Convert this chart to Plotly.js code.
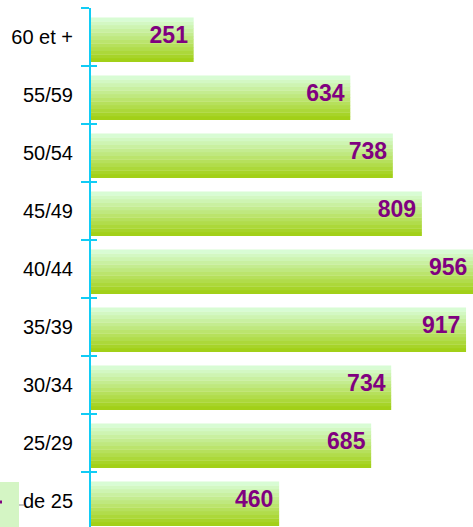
<!DOCTYPE html>
<html>
<head>
<meta charset="utf-8">
<script src="https://cdn.plot.ly/plotly-3.0.1.min.js"></script>
<style>
  html, body { margin: 0; padding: 0; overflow: hidden; background: #fff; }
  #chart { width: 473px; height: 527px; }
</style>
</head>
<body>
<div id="chart"></div>
<script>
// age groups, bottom to top
var ages = ["- de 25", "25/29", "30/34", "35/39", "40/44", "45/49", "50/54", "55/59", "60 et +"];
var effectifs = [460, 685, 734, 917, 956, 809, 738, 634, 251];

var xMax = 934;
var labelFont = "Liberation Sans, Arial, sans-serif";

// bottom -> top shades used to fake the gradient of the bars
var shades = ["#a2d018", "#a7d429", "#acd83a", "#b1dc4b", "#b6e05c", "#bbe46d",
              "#bfe87f", "#c4ec90", "#c9f0a1", "#cef4b2", "#d3f8c3", "#d8fcd4"];
var barW = 0.76;
var barShift = -0.05;

var traces = [];
for (var k = 0; k < shades.length; k++) {
    traces.push({
        type: 'bar',
        orientation: 'h',
        x: effectifs,
        y: ages,
        width: barW / shades.length + 0.005,
        offset: barShift - barW / 2 + k * barW / shades.length,
        marker: {color: shades[k], line: {width: 0}},
        hoverinfo: 'skip',
        showlegend: false
    });
}

// value labels at the end of each bar (kept inside the visible area)
traces.push({
    type: 'scatter',
    mode: 'text',
    x: effectifs.map(function(v) { return Math.min(v, xMax); }),
    y: ages,
    xaxis: 'x2',
    yaxis: 'y2',
    text: effectifs.map(String),
    textposition: 'middle left',
    textfont: {family: labelFont, size: 23, color: '#800080', weight: 'bold'},
    cliponaxis: false,
    hoverinfo: 'skip',
    showlegend: false
});

var yRange = [-0.448, 8.5];

var layout = {
    width: 473,
    height: 527,
    margin: {l: 91, r: 0, t: 8, b: 0},
    paper_bgcolor: '#ffffff',
    plot_bgcolor: '#ffffff',
    barmode: 'overlay',
    showlegend: false,
    xaxis: {
        range: [0, xMax],
        showgrid: false,
        zeroline: false,
        showline: false,
        showticklabels: false,
        ticks: ''
    },
    xaxis2: {
        overlaying: 'x',
        range: [14, xMax + 14],
        showgrid: false,
        zeroline: false,
        showline: false,
        showticklabels: false,
        ticks: ''
    },
    yaxis: {
        type: 'category',
        categoryorder: 'array',
        categoryarray: ages,
        range: yRange,
        showgrid: false,
        zeroline: false,
        showline: true,
        linecolor: '#11ccf5',
        linewidth: 2,
        ticks: 'outside',
        tickson: 'boundaries',
        ticklen: 8,
        tickwidth: 2,
        tickcolor: '#11ccf5',
        ticklabelstandoff: 12,
        tickfont: {family: labelFont, size: 20, color: '#000000'}
    },
    yaxis2: {
        type: 'category',
        categoryorder: 'array',
        categoryarray: ages,
        overlaying: 'y',
        anchor: 'x',
        side: 'left',
        range: yRange,
        showgrid: false,
        zeroline: false,
        showline: false,
        showticklabels: false,
        ticks: 'inside',
        tickson: 'boundaries',
        ticklen: 6,
        tickwidth: 2,
        tickcolor: '#11ccf5'
    },
    shapes: [
        // piece of the legend box cut by the left edge
        {type: 'rect', xref: 'paper', yref: 'paper',
         x0: -91 / 382, x1: -72 / 382, y0: 0, y1: 45 / 519,
         fillcolor: '#d4f5c4', line: {width: 0}, layer: 'above'},
        {type: 'line', xref: 'paper', yref: 'paper',
         x0: -91 / 382, x1: -89 / 382, y0: 25 / 519, y1: 25 / 519,
         line: {color: '#800080', width: 3}},
        {type: 'line', xref: 'paper', yref: 'paper',
         x0: -72 / 382, x1: -67 / 382, y0: 22 / 519, y1: 22 / 519,
         line: {color: '#888888', width: 1}}
    ]
};

Plotly.newPlot('chart', traces, layout, {displayModeBar: false, staticPlot: true});
</script>
</body>
</html>
